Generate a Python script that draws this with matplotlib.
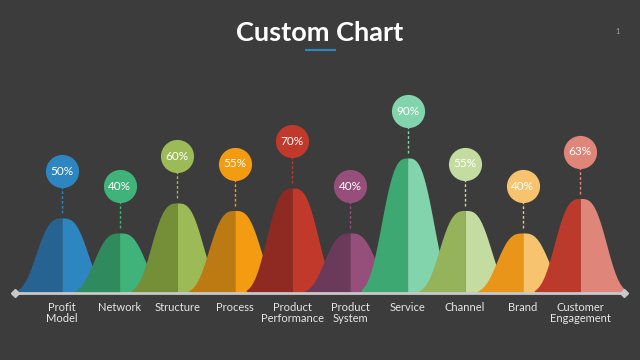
import matplotlib
matplotlib.use("Agg")
from matplotlib import pyplot as plt
import numpy as np

categories = ["Profit\nModel", "Network", "Structure", "Process", "Product\nPerformance",
              "Product\nSystem", "Service", "Channel", "Brand", "Customer\nEngagement"]
values = [50, 40, 60, 55, 70, 40, 90, 55, 40, 63]
dark = ["#276392", "#2f8a5d", "#758f39", "#bd7a12", "#8e2a22",
        "#6b3a5a", "#3ea873", "#95b35a", "#e8951a", "#bb3a2c"]
light = ["#2e86c1", "#3fb37a", "#9cbb56", "#f39c12", "#c0392b",
         "#954f7a", "#82d4ad", "#c4dca0", "#f8c36f", "#e0857a"]

bg = "#3c3c3c"
plt.rcParams['font.family'] = ['Lato', 'DejaVu Sans']

fig = plt.figure(figsize=(6.4, 3.6), dpi=100, facecolor=bg)
ax = fig.add_axes([0, 0, 1, 1], facecolor=bg)
ax.set_xlim(-1.076, 10.035)
ax.set_ylim(-44.7, 195.3)
ax.axis("off")

# bell shaped humps, left half dark, right half light
half = 0.8
w = 0.52
for i, v in enumerate(values):
    xl = np.linspace(-half, 0, 80)
    xr = np.linspace(0, half, 80)
    ax.fill_between(i + xl, 0, v * np.exp(-(np.abs(xl) / w) ** 3), color=dark[i], lw=0, zorder=2 + i)
    ax.fill_between(i + xr, 0, v * np.exp(-(np.abs(xr) / w) ** 3), color=light[i], lw=0, zorder=2 + i)

    cy = v + 31
    ax.plot([i, i], [v + 3, cy - 10], color=light[i], lw=1, ls=(0, (2, 1.5)), zorder=20)
    ax.scatter([i], [cy], s=570, color=light[i], lw=0, zorder=21)
    ax.text(i, cy, f"{v}%", color="white", ha="center", va="center", fontsize=8.5, zorder=22)

    ax.text(i, -6, categories[i], color="#e6e6e6", ha="center", va="top",
            fontsize=8, linespacing=1.0)

n = len(values)
ax.plot([-0.816, n - 1 + 0.76], [0, 0], color="#c8c8c8", lw=2, zorder=30)
ax.plot([-0.816, n - 1 + 0.76], [0, 0], ls="none", marker="D", ms=4, color="#c8c8c8", zorder=31)

fig.text(0.5, 1 - 33 / 360, "Custom Chart", color="white", fontsize=19.5, fontweight="bold",
         ha="center", va="center")
fig.add_artist(plt.Line2D([306 / 640, 335 / 640], [1 - 50 / 360] * 2, color="#2e86c1", lw=1.5))
fig.text(617 / 640, 1 - 32 / 360, "1", color="#aaaaaa", fontsize=5, ha="center", va="center")

fig.savefig("out.png", dpi=100, facecolor=bg)
